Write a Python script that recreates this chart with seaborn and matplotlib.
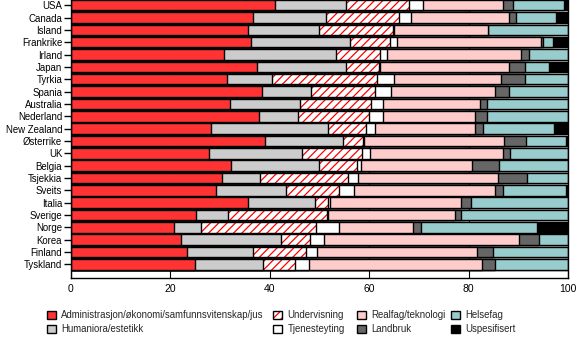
import matplotlib
matplotlib.use("Agg")
import matplotlib.pyplot as plt
import seaborn as sns
import pandas as pd
import numpy as np
from matplotlib.patches import Patch
from matplotlib.colors import to_rgba

countries = ["USA", "Canada", "Island", "Frankrike", "Irland", "Japan", "Tyrkia",
             "Spania", "Australia", "Nederland", "New Zealand", "Østerrike", "UK",
             "Belgia", "Tsjekkia", "Sveits", "Italia", "Sverige", "Norge", "Korea",
             "Finland", "Tyskland"]

adm  = [41.2, 36.6, 35.6, 36.3, 30.8, 37.4, 31.4, 38.4, 32.0, 37.9, 28.3, 39.1, 27.8, 32.3, 30.4, 29.3, 35.7, 25.2, 20.8, 22.3, 23.4, 25.0]
hum  = [14.1, 14.7, 14.3, 19.8, 22.5, 18.0, 9.2, 9.9, 14.2, 7.9, 23.4, 15.7, 18.8, 17.6, 7.6, 14.0, 13.4, 6.5, 5.4, 20.0, 13.3, 13.7]
und  = [12.8, 14.7, 14.9, 8.2, 8.9, 6.6, 21.0, 12.9, 14.2, 14.3, 7.6, 4.0, 11.9, 7.7, 17.8, 10.6, 2.7, 19.8, 23.1, 5.8, 10.7, 6.5]
tje  = [2.7, 2.5, 0.2, 1.3, 1.4, 0.3, 3.5, 3.3, 2.5, 2.8, 1.9, 0.2, 1.7, 0.7, 2.0, 3.1, 0.4, 0.3, 4.6, 2.9, 2.1, 2.7]
real = [16.2, 19.7, 19.0, 28.9, 26.9, 25.8, 21.5, 20.8, 19.4, 18.4, 20.1, 28.2, 26.8, 22.4, 28.1, 28.4, 26.3, 25.5, 15.0, 39.1, 32.3, 34.8]
land = [2.0, 1.4, 0.0, 0.5, 1.7, 3.3, 4.8, 2.9, 1.5, 2.4, 1.7, 4.3, 1.4, 5.4, 5.8, 1.6, 2.0, 1.2, 1.6, 4.0, 3.1, 2.7]
hel  = [10.2, 7.9, 16.0, 2.0, 7.8, 4.8, 8.6, 11.8, 16.2, 16.3, 14.2, 8.0, 11.6, 13.9, 8.3, 12.5, 19.5, 21.5, 23.2, 5.9, 15.1, 14.6]
usp  = [0.8, 2.5, 0.0, 3.0, 0.0, 3.8, 0.0, 0.0, 0.0, 0.0, 2.8, 0.5, 0.0, 0.0, 0.0, 0.5, 0.0, 0.0, 6.3, 0.0, 0.0, 0.0]

labels = ["Administrasjon/økonomi/samfunnsvitenskap/jus", "Humaniora/estetikk",
          "Undervisning", "Tjenesteyting", "Realfag/teknologi", "Landbruk",
          "Helsefag", "Uspesifisert"]
series = [adm, hum, und, tje, real, land, hel, usp]
colors = ["#FF3333", "#CCCCCC", "#FFFFFF", "#FFFFFF", "#FFCCCC", "#666666", "#99CCCC", "#000000"]

sns.set_theme(style="white")
plt.rcParams["font.family"] = ["Liberation Sans", "DejaVu Sans"]
plt.rcParams["hatch.linewidth"] = 0.9

fig = plt.figure(figsize=(5.78, 3.39), dpi=100)
ax = fig.add_axes([70.5 / 578, 1 - 278 / 339, (568 - 70.5) / 578, 278 / 339])

cum = np.cumsum(np.array(series), axis=0)
for k in range(len(series) - 1, -1, -1):
    df = pd.DataFrame({"country": countries, "value": cum[k]})
    n_before = len(ax.patches)
    sns.barplot(data=df, x="value", y="country", order=countries, orient="h",
                color=colors[k], saturation=1, width=0.85, edgecolor="black",
                linewidth=1.0, ax=ax)
    if k == 2:
        for p in ax.patches[n_before:]:
            p.set_hatch("////")
            p.set_edgecolor("black")
            try:
                p.set_hatchcolor("red")
            except AttributeError:
                p._hatch_color = to_rgba("red")

ax.set_xlim(0, 100)
ax.set_ylim(22.1, -0.42)
ax.set_xticks([0, 20, 40, 60, 80, 100])
ax.set_xlabel("")
ax.set_ylabel("")
ax.xaxis.grid(True, color="black", linewidth=0.8)
ax.yaxis.grid(False)
ax.set_axisbelow(True)
for s in ["left", "right", "bottom"]:
    ax.spines[s].set_visible(True)
    ax.spines[s].set_color("black")
    ax.spines[s].set_linewidth(1.0)
ax.spines["top"].set_visible(False)
ax.tick_params(axis="y", left=True, length=5, width=1, pad=1, labelsize=6.9, colors="black")
ax.tick_params(axis="x", bottom=False, length=0, pad=4, labelsize=7.5, colors="black")

# Legend (4 columns, placed individually)
handles = []
for k in range(8):
    if k == 2:
        h = Patch(facecolor="white", edgecolor="red", hatch="////", label=labels[k])
    else:
        h = Patch(facecolor=colors[k], edgecolor="black", label=labels[k])
    handles.append(h)

col_x = [47, 273, 357, 451]
for i, x in enumerate(col_x):
    hs = handles[2 * i:2 * i + 2]
    leg = fig.legend(handles=hs, loc="upper left", bbox_to_anchor=(x / 578, 1 - 310 / 339),
                     frameon=False, fontsize=6.9, handlelength=0.95, handleheight=0.95,
                     handletextpad=0.55, labelspacing=0.45, borderpad=0, borderaxespad=0)
    if i == 1:
        leg.legend_handles[0].set_edgecolor("black")
        try:
            leg.legend_handles[0].set_hatchcolor("red")
        except AttributeError:
            leg.legend_handles[0]._hatch_color = to_rgba("red")

fig.savefig("out.png", dpi=100)
